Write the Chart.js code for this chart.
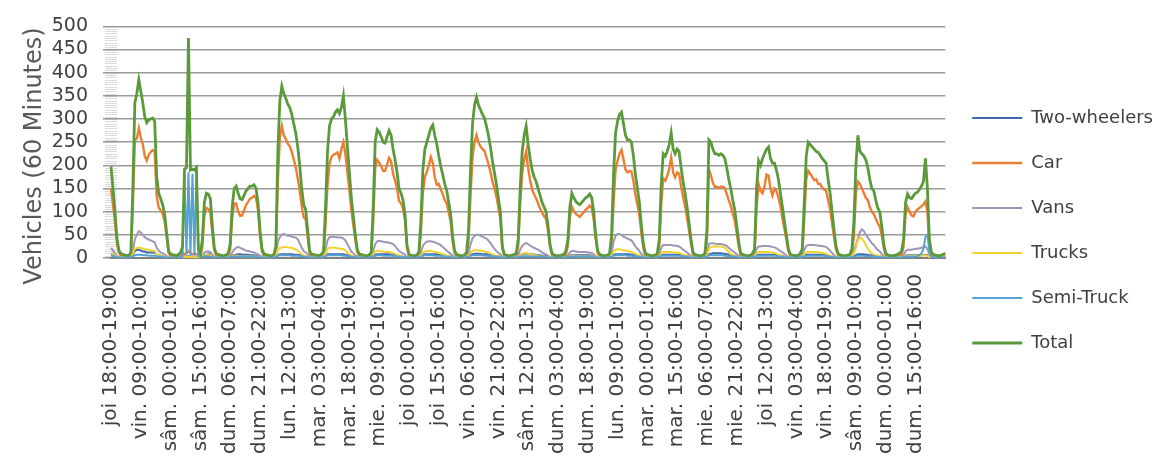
<!DOCTYPE html>
<html>
<head>
<meta charset="utf-8">
<script src="https://cdn.jsdelivr.net/npm/chart.js@4.4.1/dist/chart.umd.min.js"></script>
<style>
  html, body { margin: 0; padding: 0; background: #ffffff; }
  canvas { display: block; }
</style>
</head>
<body>
<canvas id="traffic" width="1170" height="456"></canvas>
<script>
// Hourly vehicle counts, starting Thursday 18:00 (one row per day)
const twoWheelers = [
  8,6,4,2,1,1,
  1,1,1,1,2,8,15,18,18,16,14,14,12,12,12,12,12,8,6,5,4,3,2,1,
  1,1,1,1,1,2,3,2,3,3,2,2,3,2,2,1,4,6,7,8,8,4,2,1,
  1,1,1,1,1,2,3,5,6,7,8,8,7,7,7,7,6,6,6,5,4,3,2,1,
  1,1,1,1,1,2,6,8,8,8,8,8,8,8,7,7,7,6,5,4,3,2,1,1,
  1,1,1,1,1,2,5,8,8,8,8,8,8,8,8,8,7,6,5,4,3,2,1,1,
  1,1,1,1,1,2,5,7,8,8,8,8,8,8,8,7,7,6,5,4,4,3,2,1,
  1,1,1,1,1,2,4,7,8,8,8,8,8,8,8,7,7,6,5,4,4,3,2,1,
  1,1,1,1,1,2,4,7,8,9,9,9,9,8,8,8,7,7,6,5,4,4,3,1,
  1,1,1,1,1,1,1,3,6,8,9,9,9,8,8,7,7,6,6,5,5,4,3,1,
  1,1,1,1,1,1,1,2,3,5,6,6,6,6,6,6,6,6,6,6,5,4,2,1,
  1,1,1,1,1,2,4,7,8,8,8,8,8,8,8,8,7,7,6,5,4,3,2,1,
  1,1,1,1,1,2,3,6,7,7,7,7,7,7,7,7,7,6,5,4,4,3,2,1,
  1,1,1,1,1,2,4,8,9,10,10,10,10,10,9,9,8,7,6,5,4,3,2,1,
  1,1,1,1,1,2,3,6,7,7,7,7,7,7,7,7,7,6,5,4,4,3,2,1,
  1,1,1,1,1,2,3,5,7,7,7,7,7,7,7,7,7,7,6,5,4,3,2,1,
  1,1,1,1,1,1,1,2,4,6,8,8,8,8,7,7,6,6,5,5,4,4,3,1,
  1,1,1,1,1,1,1,1,2,3,5,6,6,6,6,6,6,6,6,6,7,6,3,1,
  1,1,1,1,1,1,1
];

const cars = [
  150,115,78,32,11,5,
  3,2,1,2,4,113,254,258,280,260,245,220,210,223,229,233,229,134,109,103,95,79,46,10,
  4,3,2,2,3,5,12,8,10,15,10,8,10,8,8,4,25,92,108,106,98,54,16,5,
  4,2,2,1,3,4,19,86,118,118,100,91,92,103,115,121,128,130,134,130,104,49,14,4,
  4,2,1,1,3,13,166,259,285,265,257,247,241,229,213,196,172,146,112,88,84,45,9,4,
  4,2,1,2,3,5,73,158,204,218,223,225,228,215,235,250,225,185,147,104,71,38,12,4,
  4,2,1,1,2,3,78,194,212,206,198,188,188,202,216,209,182,167,150,123,118,107,82,23,
  4,2,1,1,2,3,55,140,175,186,200,218,205,175,158,160,148,138,125,118,98,78,35,10,
  4,2,1,1,2,3,38,136,218,250,265,249,241,235,231,217,203,187,166,151,133,109,84,20,
  4,2,1,1,2,3,4,27,117,183,212,230,193,168,148,137,129,118,107,98,90,84,59,25,
  6,3,1,1,1,2,3,8,27,86,111,101,95,92,89,94,99,104,108,113,108,83,41,10,
  4,2,1,1,1,1,28,119,190,210,225,233,213,191,185,188,187,166,136,115,93,53,21,5,
  4,2,1,1,1,1,22,117,172,167,177,192,217,184,174,185,182,154,131,112,86,59,31,7,
  4,2,1,1,1,1,37,191,179,162,153,154,151,154,154,151,138,125,113,95,81,54,26,5,
  4,2,1,1,1,1,7,109,160,145,140,155,180,178,150,135,150,145,130,112,86,63,39,15,
  4,2,1,1,1,1,7,85,170,188,182,175,168,170,160,160,152,148,145,125,105,75,45,18,
  6,3,1,1,1,1,1,7,49,140,165,160,150,140,130,125,110,100,95,85,75,68,50,22,
  6,3,1,1,1,2,3,5,7,26,95,110,100,92,90,100,105,108,112,115,122,100,22,6,
  4,2,1,1,2,3,4
];

const vans = [
  22,16,10,4,2,1,
  2,1,1,1,2,15,40,50,58,55,50,45,42,40,38,36,34,22,16,12,10,8,4,2,
  1,1,1,1,1,2,4,3,3,4,3,3,3,2,3,2,5,12,14,14,13,7,2,1,
  1,1,1,1,1,2,4,12,18,22,24,22,20,18,16,15,14,13,12,10,8,5,2,1,
  1,1,1,1,2,5,35,45,50,52,50,48,48,46,45,44,40,32,22,15,12,8,3,1,
  1,1,1,1,2,4,18,38,45,46,46,45,45,44,44,42,38,30,22,14,10,6,3,1,
  1,1,1,1,2,3,15,30,36,37,36,35,34,34,33,32,30,26,20,15,12,10,7,2,
  1,1,1,1,2,3,12,26,32,35,36,36,35,34,32,30,28,24,20,16,12,9,5,2,
  1,1,1,1,2,3,10,30,42,48,50,50,48,46,44,42,38,32,26,20,15,11,8,2,
  1,1,1,1,1,2,3,6,18,26,30,32,30,27,24,22,20,18,15,12,10,8,5,2,
  1,1,1,1,1,1,2,3,6,12,15,15,14,13,13,13,13,13,12,12,11,8,4,2,
  1,1,1,1,2,3,10,35,48,52,52,50,46,44,42,40,38,32,25,20,15,9,4,2,
  1,1,1,1,2,3,8,22,28,28,28,28,28,27,27,26,25,22,18,15,12,8,4,2,
  1,1,1,1,2,3,10,30,32,32,31,30,30,30,29,28,26,22,18,15,12,8,4,2,
  1,1,1,1,2,3,5,20,25,25,26,26,26,26,25,24,23,21,18,15,12,9,5,2,
  1,1,1,1,2,3,5,18,26,28,28,28,28,27,27,26,26,25,24,20,16,11,6,2,
  1,1,1,1,1,2,3,5,14,28,42,55,62,58,50,44,38,32,28,22,18,14,9,3,
  1,1,1,1,1,1,2,2,3,6,15,18,18,18,19,20,20,21,22,23,25,20,6,2,
  1,1,1,1,1,2,2
];

const trucks = [
  12,8,5,2,1,1,
  1,1,1,1,2,10,20,22,22,22,20,20,18,18,16,16,15,8,6,5,4,3,2,1,
  1,1,1,0,1,1,2,1,2,2,2,1,2,1,2,1,3,6,7,7,6,3,1,1,
  1,1,0,1,1,1,2,4,5,5,5,4,4,4,4,4,4,3,3,3,2,2,1,1,
  1,1,1,1,1,3,18,22,22,24,24,23,22,22,20,18,16,12,8,5,4,3,1,1,
  1,1,1,1,1,2,10,20,22,22,22,22,21,20,20,19,16,12,8,5,4,2,1,1,
  1,1,1,1,1,2,8,14,15,15,14,14,13,13,13,12,11,9,7,5,4,3,2,1,
  1,1,1,1,1,2,6,12,14,15,15,15,14,13,12,11,10,8,7,5,4,3,2,1,
  1,1,1,1,1,2,5,12,16,17,17,16,16,15,14,13,12,10,8,6,5,4,3,1,
  1,1,1,1,1,1,1,2,6,9,10,10,9,8,7,6,6,5,4,3,3,2,2,1,
  1,1,1,1,1,1,1,1,2,4,5,5,4,4,4,4,4,4,4,4,3,3,2,1,
  1,1,1,1,1,2,5,14,18,19,19,18,17,16,15,14,13,11,9,7,5,3,2,1,
  1,1,1,1,1,2,4,10,13,13,13,13,13,12,12,12,11,9,7,6,5,3,2,1,
  1,1,1,1,1,2,6,20,24,25,25,25,25,25,24,22,18,12,9,7,5,3,2,1,
  1,1,1,1,1,2,3,10,13,13,13,13,13,13,12,12,11,9,7,6,5,3,2,1,
  1,1,1,1,1,2,3,8,12,13,13,13,13,13,12,12,11,10,9,7,5,4,2,1,
  1,1,1,1,1,1,2,4,10,22,38,45,42,36,28,20,14,10,8,6,5,4,3,1,
  1,1,1,1,1,1,1,1,2,3,5,5,5,5,5,5,5,5,5,6,6,5,2,1,
  1,1,1,1,1,1,2
];

const semiTrucks = [
  6,5,3,2,1,1,
  1,1,1,1,2,4,6,7,7,7,6,6,6,5,5,5,5,3,3,3,2,2,1,1,
  1,1,1,1,1,2,3,180,8,185,5,182,6,185,5,2,3,4,4,3,3,2,1,1,
  1,1,1,1,1,1,2,3,3,3,3,3,3,3,3,3,3,3,3,2,2,1,1,1,
  1,1,1,1,1,2,5,6,6,6,6,6,6,5,5,5,5,4,3,3,2,2,1,1,
  1,1,1,1,1,2,4,6,6,6,6,6,6,6,6,5,5,4,3,3,2,2,1,1,
  1,1,1,1,1,2,4,5,6,6,6,5,5,5,5,5,5,4,3,3,2,2,2,1,
  1,1,1,1,1,2,3,5,6,6,6,6,6,5,5,5,5,4,3,3,2,2,1,1,
  1,1,1,1,1,2,3,5,6,6,6,6,6,6,5,5,5,4,4,3,3,2,2,1,
  1,1,1,1,1,1,1,2,3,4,4,4,4,4,3,3,3,3,3,2,2,2,1,1,
  1,1,1,1,1,1,1,1,2,3,3,3,3,3,3,3,3,3,3,3,3,2,1,1,
  1,1,1,1,1,2,3,5,6,6,6,6,6,6,5,5,5,4,4,3,3,2,1,1,
  1,1,1,1,1,2,3,5,5,5,5,5,5,5,5,5,5,4,4,3,3,2,1,1,
  1,1,1,1,1,2,3,6,6,6,6,6,6,6,6,5,5,4,4,3,3,2,1,1,
  1,1,1,1,1,2,2,5,5,5,5,5,5,5,5,5,5,4,4,3,3,2,2,1,
  1,1,1,1,1,2,2,4,5,5,5,5,5,5,5,5,5,5,4,4,3,2,2,1,
  1,1,1,1,1,1,1,2,3,4,5,5,5,5,4,4,4,3,3,3,2,2,1,1,
  1,1,1,1,1,1,1,1,1,2,3,3,3,3,3,3,4,6,10,20,45,50,15,2,
  1,1,1,1,1,1,1
];

const totals = [
  198,150,100,42,16,9,
  8,6,5,6,12,150,335,355,385,360,335,305,292,298,300,302,295,175,140,128,115,95,55,15,
  9,7,6,5,8,12,25,192,195,475,190,192,190,195,20,10,40,120,140,138,128,70,22,9,
  8,6,5,5,7,10,30,110,150,155,140,128,126,135,145,150,155,155,158,150,120,60,20,8,
  8,6,5,5,8,25,230,340,371,355,345,332,325,310,290,270,240,200,150,115,105,60,15,8,
  8,6,5,6,8,15,110,230,285,300,305,315,320,312,325,350,300,240,185,130,90,50,18,8,
  8,6,5,5,7,12,110,250,277,272,262,250,248,262,275,265,235,212,185,150,140,125,95,28,
  8,6,5,5,7,12,80,190,235,250,265,280,287,265,246,220,198,180,160,146,120,95,45,15,
  8,6,5,5,7,12,60,190,290,330,347,330,320,310,302,285,265,240,210,185,160,130,100,25,
  8,6,5,5,6,8,10,40,150,230,265,285,245,215,190,175,165,150,135,120,110,100,70,30,
  10,7,5,5,5,6,8,15,40,110,140,130,122,118,115,120,125,130,133,138,130,100,50,15,
  8,6,5,5,6,10,50,180,270,295,310,315,290,265,255,255,250,220,180,150,120,70,30,10,
  8,6,5,5,6,10,40,160,225,220,230,245,270,235,225,235,230,195,165,140,110,75,40,12,
  8,6,5,5,6,10,60,255,250,235,225,225,222,225,222,215,195,170,150,125,105,70,35,10,
  8,6,5,5,6,10,20,150,210,200,215,225,235,240,215,205,205,190,170,140,110,80,50,20,
  8,6,5,5,6,10,20,120,220,250,245,240,235,230,228,222,215,210,205,170,140,100,60,25,
  10,7,5,5,5,6,8,20,80,200,265,230,225,220,212,195,170,150,145,125,108,100,70,30,
  10,7,5,5,5,6,8,10,15,40,120,138,130,128,135,140,142,148,155,165,215,150,40,12,
  8,6,5,5,6,8,10
];

// Axis labels shown every 15 hours
const tickLabels = [
  'joi 18:00-19:00', 'vin. 09:00-10:00', 'sâm. 00:00-01:00', 'sâm. 15:00-16:00',
  'dum. 06:00-07:00', 'dum. 21:00-22:00', 'lun. 12:00-13:00', 'mar. 03:00-04:00',
  'mar. 18:00-19:00', 'mie. 09:00-10:00', 'joi 00:00-01:00', 'joi 15:00-16:00',
  'vin. 06:00-07:00', 'vin. 21:00-22:00', 'sâm. 12:00-13:00', 'dum. 03:00-04:00',
  'dum. 18:00-19:00', 'lun. 09:00-10:00', 'mar. 00:00-01:00', 'mar. 15:00-16:00',
  'mie. 06:00-07:00', 'mie. 21:00-22:00', 'joi 12:00-13:00', 'vin. 03:00-04:00',
  'vin. 18:00-19:00', 'sâm. 09:00-10:00', 'dum. 00:00-01:00', 'dum. 15:00-16:00'
];
const tickEvery = 15;

const weekDays = ['joi', 'vin.', 'sâm.', 'dum.', 'lun.', 'mar.', 'mie.'];
const firstHour = 18;
const yTitle = 'Vehicles (60 Minutes)';

// One category per hour of the recording
const pad2 = n => String(n).padStart(2, '0');
const hourLabels = totals.map((_, i) => {
  const h = firstHour + i;
  const hh = h % 24;
  return `${weekDays[Math.floor(h / 24) % 7]} ${pad2(hh)}:00-${pad2((hh + 1) % 24)}:00`;
});

const FONT = 'DejaVu Sans';

// Minor tick marks along the value axis
const minorTicks = {
  id: 'minorTicks',
  beforeDatasetsDraw(chart) {
    const { ctx, chartArea, scales } = chart;
    ctx.save();
    ctx.strokeStyle = 'rgba(150,150,150,0.35)';
    ctx.lineWidth = 1;
    for (let v = 0; v <= 500; v += 5) {
      const py = Math.round(scales.y.getPixelForValue(v)) + 0.5;
      ctx.beginPath();
      ctx.moveTo(chartArea.left - 6, py);
      ctx.lineTo(chartArea.left + 6, py);
      ctx.stroke();
    }
    ctx.restore();
  }
};

// Rotated value-axis title
const valueAxisTitle = {
  id: 'valueAxisTitle',
  afterDraw(chart) {
    const { ctx } = chart;
    ctx.save();
    ctx.translate(35, 156);
    ctx.rotate(-Math.PI / 2);
    ctx.font = `24px "${FONT}"`;
    ctx.fillStyle = '#595959';
    ctx.textAlign = 'center';
    ctx.textBaseline = 'middle';
    ctx.fillText(yTitle, 0, 0);
    ctx.restore();
  }
};

// Lift the legend block slightly above the canvas centre
const legendLift = {
  id: 'legendLift',
  afterLayout(chart) {
    if (chart.legend) { chart.legend.top -= 13; }
  }
};

const series = (label, data, color, width, order) => ({
  label, data, order,
  borderColor: color,
  backgroundColor: color,
  borderWidth: width,
  pointRadius: 0,
  tension: 0,
  fill: false
});

new Chart(document.getElementById('traffic'), {
  type: 'line',
  data: {
    labels: hourLabels,
    datasets: [
      series('Two-wheelers', twoWheelers, '#3F66B3', 2, 5),
      series('Car', cars, '#ED7D31', 2.4, 4),
      series('Vans', vans, '#9D96B8', 2, 3),
      series('Trucks', trucks, '#F2D22E', 2, 2),
      series('Semi-Truck', semiTrucks, '#55A3D3', 2, 1),
      series('Total', totals, '#5B9A3B', 2.8, 0)
    ]
  },
  options: {
    responsive: false,
    animation: false,
    layout: { padding: { top: 18, right: 7, bottom: 0, left: 0 } },
    plugins: {
      tooltip: { enabled: false },
      legend: {
        position: 'right',
        align: 'center',
        labels: {
          usePointStyle: true,
          pointStyle: 'line',
          pointStyleWidth: 50,
          padding: 27,
          color: '#404040',
          font: { family: FONT, size: 18 },
          sort: (a, b) => a.datasetIndex - b.datasetIndex
        }
      }
    },
    scales: {
      x: {
        grid: { display: false, drawTicks: false },
        border: { display: true, color: '#7f7f7f', width: 2 },
        ticks: {
          autoSkip: false,
          minRotation: 90,
          maxRotation: 90,
          padding: 16,
          color: '#404040',
          font: { family: FONT, size: 20 },
          callback: (value, index) => (index % tickEvery === 0 ? tickLabels[index / tickEvery] : null)
        },
        afterFit(scale) { scale.height = 198; }
      },
      y: {
        min: 0,
        max: 500,
        border: { display: false },
        grid: { color: '#9a9a9a', lineWidth: 1.5, tickLength: 8 },
        ticks: {
          stepSize: 50,
          autoSkip: false,
          padding: 15,
          color: '#404040',
          font: { family: FONT, size: 19 }
        },
        afterFit(scale) { scale.width = 111; }
      }
    }
  },
  plugins: [minorTicks, valueAxisTitle, legendLift]
});
</script>
</body>
</html>
